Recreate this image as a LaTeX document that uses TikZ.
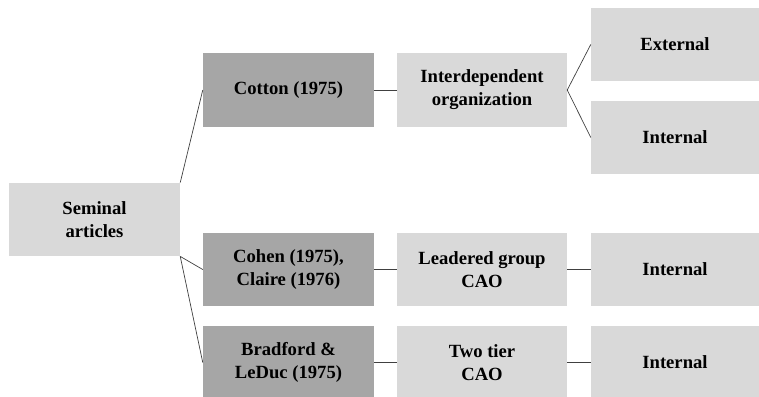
\documentclass[tikz,border=0pt]{standalone}
\usepackage{fontspec}
\setmainfont{Liberation Serif}
\usepackage{tikz}
\usetikzlibrary{positioning}
\definecolor{boxlite}{HTML}{D9D9D9}
\definecolor{boxdark}{HTML}{A6A6A6}
\definecolor{wire}{HTML}{404040}
\tikzset{
  lite/.style = {fill=boxlite, rectangle, align=center, inner sep=2pt,
                 minimum width=5.13cm, minimum height=2.2cm,
                 font=\fontsize{15.9}{19.6}\selectfont\bfseries},
  dark/.style = {lite, fill=boxdark},
  ln/.style   = {draw=wire, line width=0.6pt},
}
\begin{document}
\begin{tikzpicture}
\useasboundingbox (0,0) rectangle (22.77,-11.88);
%% ---- root ------------------------------------------------------------
\node[lite] (sem) at (2.835,-6.585) {Seminal\\articles};

%% ---- articles --------------------------------------------------------
\node[dark] (cot) at (8.655,-2.7)   {Cotton (1975)};
\node[dark] (coh) at (8.655,-8.085) {Cohen (1975),\\Claire (1976)};
\node[dark] (brd) at (8.655,-10.875){Bradford \&\\LeDuc (1975)};

%% ---- forms -----------------------------------------------------------
\node[lite, minimum width=5.1cm] (itd) at (14.46,-2.7)   {Interdependent\\organization};
\node[lite, minimum width=5.1cm] (ldg) at (14.46,-8.085) {Leadered group\\CAO};
\node[lite, minimum width=5.1cm] (twt) at (14.46,-10.875){Two tier\\CAO};

%% ---- scope -----------------------------------------------------------
\node[lite, minimum width=5.04cm] (ext) at (20.25,-1.335) {External};
\node[lite, minimum width=5.04cm] (in1) at (20.25,-4.125) {Internal};
\node[lite, minimum width=5.04cm] (in2) at (20.25,-8.085) {Internal};
\node[lite, minimum width=5.04cm] (in3) at (20.25,-10.875){Internal};

%% ---- connectors ------------------------------------------------------
\draw[ln] (sem.north east) -- (cot.west);
\draw[ln] (sem.south east) -- (coh.west);
\draw[ln] (sem.south east) -- (brd.west);

\draw[ln] (cot.east) -- (itd.west);
\draw[ln] (coh.east) -- (ldg.west);
\draw[ln] (brd.east) -- (twt.west);

\draw[ln] (itd.east) -- (ext.west);
\draw[ln] (itd.east) -- (in1.west);
\draw[ln] (ldg.east) -- (in2.west);
\draw[ln] (twt.east) -- (in3.west);
\end{tikzpicture}
\end{document}
